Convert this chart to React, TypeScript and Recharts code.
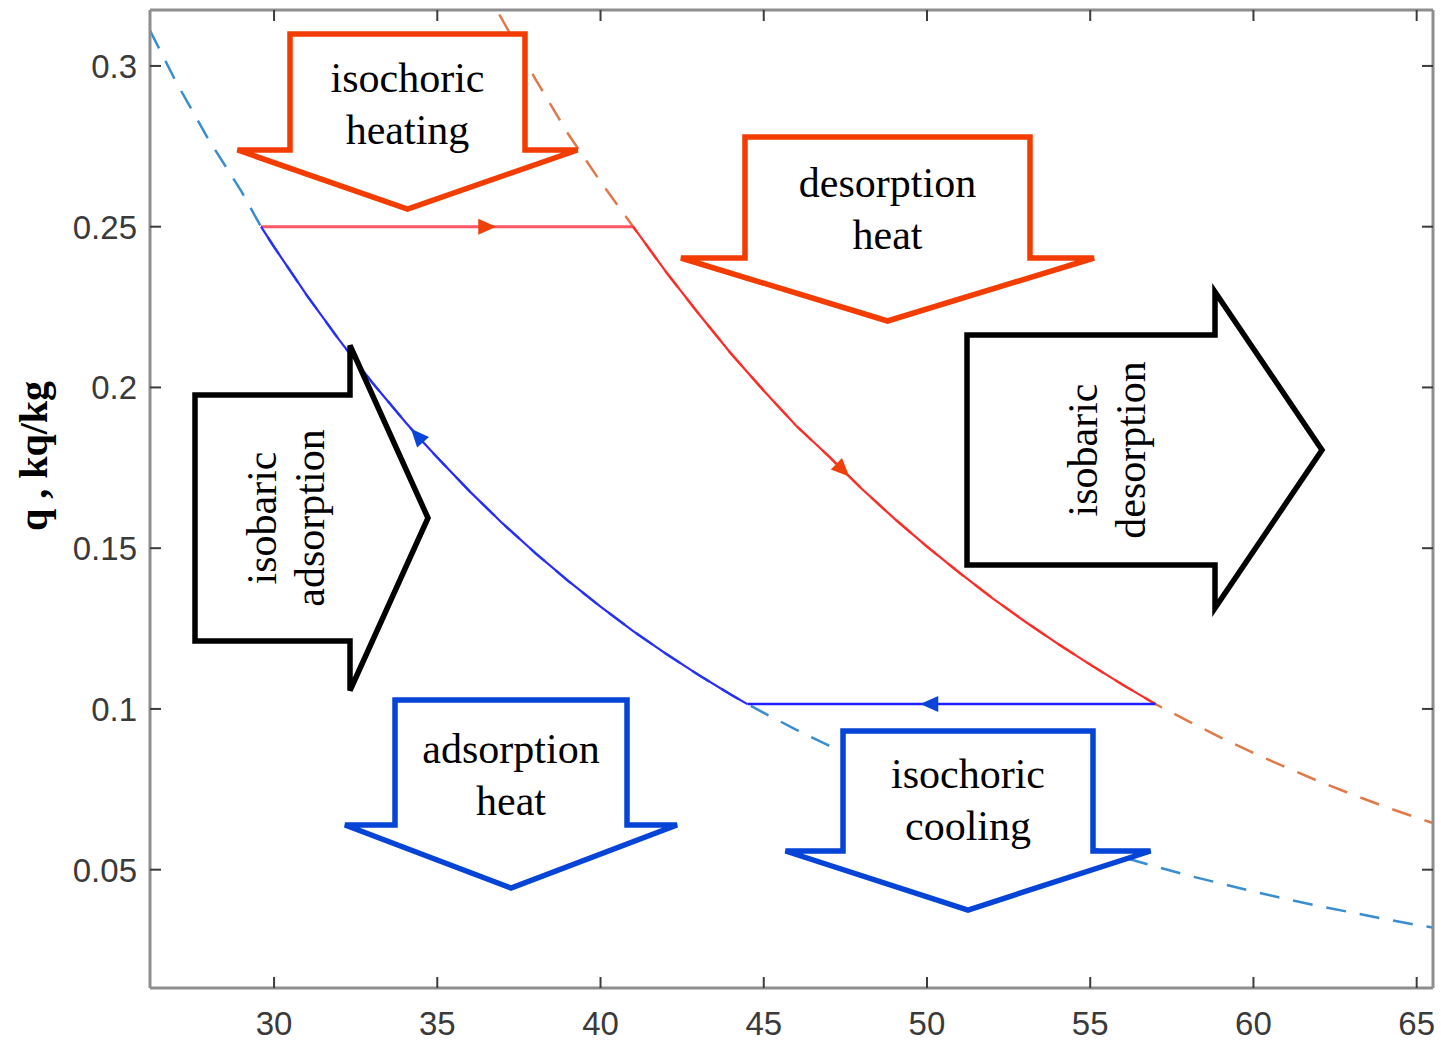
import { Line, LineChart, XAxis, YAxis } from "recharts";

// low-pressure isostere (adsorber side), T in °C, q in kg/kg
const lowT = [
  26.2, 27, 28, 29, 29.6, 30, 31, 32, 33, 34, 34.4, 35, 36, 37, 38, 39, 40, 41, 42,
  43, 44, 44.5, 45, 46, 47, 48, 49, 50, 51, 52, 53, 54, 55, 56, 57, 58, 59, 60, 61,
  62, 63, 64, 65, 65.5,
];
const lowQ = [
  0.311, 0.295, 0.277, 0.261, 0.25, 0.2437, 0.2287, 0.2147, 0.2016, 0.1895, 0.1848,
  0.1782, 0.1676, 0.1577, 0.1485, 0.1399, 0.1318, 0.1242, 0.1172, 0.1106, 0.1044,
  0.1015, 0.0988, 0.0935, 0.0886, 0.0838, 0.0793, 0.075, 0.071, 0.0672, 0.0636,
  0.0602, 0.057, 0.0539, 0.051, 0.0482, 0.0457, 0.0432, 0.0409, 0.0387, 0.0367,
  0.0347, 0.0328, 0.032,
];

// high-pressure isostere (desorber side)
const highT = [
  36.9, 38, 39, 40, 41, 42, 43, 44, 45, 46, 47, 47.4, 48, 49, 50, 51, 52, 53, 54, 55,
  56, 57, 58, 59, 60, 61, 62, 63, 64, 65, 65.5,
];
const highQ = [
  0.316, 0.296, 0.279, 0.264, 0.25, 0.236, 0.223, 0.2105, 0.199, 0.188, 0.1785, 0.1745,
  0.1685, 0.1592, 0.1505, 0.1423, 0.1345, 0.1272, 0.1203, 0.1138, 0.1075, 0.1015,
  0.0962, 0.0911, 0.0863, 0.0818, 0.0775, 0.0735, 0.0697, 0.0662, 0.0645,
];

// cycle corners: start of heating, start of desorption, start of cooling, start of adsorption
const cycleT = [29.6, 41, 57, 44.5];
const cycleQ = [0.25, 0.25, 0.1015, 0.1015];
// where the direction arrows sit on each leg (heating, desorption, cooling, adsorption)
const arrowT = [36.5, 47.4, 50.1, 34.4];

const xTicks = [30, 35, 40, 45, 50, 55, 60, 65];
const yTicks = [0.05, 0.1, 0.15, 0.2, 0.25, 0.3];

type Pt = { T: number; q: number };
const zip = (ts: number[], qs: number[]): Pt[] => ts.map((T, i) => ({ T, q: qs[i] }));

const lowCurve = zip(lowT, lowQ);
const highCurve = zip(highT, highQ);
const heatingLeg = zip([cycleT[0], arrowT[0], cycleT[1]], [cycleQ[0], cycleQ[0], cycleQ[1]]);
const desorptionLeg = highCurve.filter((p) => p.T >= cycleT[1] && p.T <= cycleT[2]);
const coolingLeg = zip([cycleT[2], arrowT[2], cycleT[3]], [cycleQ[2], cycleQ[2], cycleQ[3]]);
const adsorptionLeg = lowCurve.filter((p) => p.T >= cycleT[0] && p.T <= cycleT[3]).reverse();

const W = 1441;
const H = 1042;
const FRAME = "#8e8e8e";
const TICK = "#3c3c3c";
const LABEL = "#3a3a3a";
const SANS = "'Liberation Sans', Arial, Helvetica, sans-serif";
const SERIF = "'Liberation Serif', 'Times New Roman', serif";
const ORANGE = "#f23c00";
const BLUE = "#0544d6";

// direction marker drawn on the point whose T matches `at`
const arrowDot = (at: number, color: string) => (props: any) => {
  const { cx, cy, index, points, payload } = props;
  if (!payload || payload.T !== at || !points) return <g />;
  const a = points[Math.max(index - 1, 0)];
  const b = points[Math.min(index + 1, points.length - 1)];
  const dx = b.x - a.x;
  const dy = b.y - a.y;
  const len = Math.hypot(dx, dy) || 1;
  const ux = dx / len;
  const uy = dy / len;
  const tip = [cx + ux * 10, cy + uy * 10];
  const b1 = [cx - ux * 8 - uy * 8, cy - uy * 8 + ux * 8];
  const b2 = [cx - ux * 8 + uy * 8, cy - uy * 8 - ux * 8];
  return <polygon points={`${tip} ${b1} ${b2}`} fill={color} stroke="none" />;
};

const BottomTick = (props: any) => {
  const { x, y, payload } = props;
  return (
    <g>
      <line x1={x} y1={y} x2={x} y2={y - 11} stroke={TICK} strokeWidth={2} />
      <text x={x} y={y + 47} textAnchor="middle" fontSize={33} fill={LABEL} fontFamily={SANS}>
        {payload.value}
      </text>
    </g>
  );
};

const TopTick = (props: any) => {
  const { x, y } = props;
  return <line x1={x} y1={y} x2={x} y2={y + 11} stroke={TICK} strokeWidth={2} />;
};

const LeftTick = (props: any) => {
  const { x, y, payload } = props;
  return (
    <g>
      <line x1={x} y1={y} x2={x + 11} y2={y} stroke={TICK} strokeWidth={2} />
      <text x={x - 13} y={y} dy="0.36em" textAnchor="end" fontSize={33} fill={LABEL} fontFamily={SANS}>
        {String(payload.value)}
      </text>
    </g>
  );
};

const RightTick = (props: any) => {
  const { x, y } = props;
  return <line x1={x} y1={y} x2={x - 11} y2={y} stroke={TICK} strokeWidth={2} />;
};

// block arrow pointing down: body from top to shoulder, wings out to wingHalf, tip below
function downArrow(cx: number, top: number, half: number, shoulder: number, wingHalf: number, tip: number) {
  return [
    [cx - half, top],
    [cx + half, top],
    [cx + half, shoulder],
    [cx + wingHalf, shoulder],
    [cx, tip],
    [cx - wingHalf, shoulder],
    [cx - half, shoulder],
  ]
    .map((p) => p.join(","))
    .join(" ");
}

// block arrow pointing right
function rightArrow(cy: number, left: number, half: number, neck: number, headHalf: number, tip: number) {
  return [
    [left, cy - half],
    [neck, cy - half],
    [neck, cy - headHalf],
    [tip, cy],
    [neck, cy + headHalf],
    [neck, cy + half],
    [left, cy + half],
  ]
    .map((p) => p.join(","))
    .join(" ");
}

function Label({ x, y, lines, rotate }: { x: number; y: number; lines: string[]; rotate?: boolean }) {
  return (
    <>
      {lines.map((s, i) =>
        rotate ? (
          <text
            key={s}
            x={x + i * 48}
            y={y}
            transform={`rotate(-90 ${x + i * 48} ${y})`}
            textAnchor="middle"
            fontSize={42}
            fontFamily={SERIF}
            fill="#000"
          >
            {s}
          </text>
        ) : (
          <text key={s} x={x} y={y + i * 52} textAnchor="middle" fontSize={42} fontFamily={SERIF} fill="#000">
            {s}
          </text>
        ),
      )}
    </>
  );
}

function Annotations() {
  const sw = 5.5;
  return (
    <svg width={W} height={H} style={{ position: "absolute", left: 0, top: 0, pointerEvents: "none" }}>
      <text
        x={47}
        y={456}
        transform="rotate(-90 47 456)"
        textAnchor="middle"
        fontSize={40}
        fontWeight="bold"
        fontFamily={SERIF}
        fill="#000"
      >
        q , kq/kg
      </text>

      <polygon points={downArrow(407.5, 34, 117.5, 150, 170, 209)} fill="#fff" stroke={ORANGE} strokeWidth={sw} />
      <Label x={407.5} y={92} lines={["isochoric", "heating"]} />

      <polygon points={downArrow(887.5, 137, 142.5, 258, 206.5, 321)} fill="#fff" stroke={ORANGE} strokeWidth={sw} />
      <Label x={887.5} y={197} lines={["desorption", "heat"]} />

      <polygon points={downArrow(511, 700, 116, 825, 166, 888)} fill="#fff" stroke={BLUE} strokeWidth={sw} />
      <Label x={511} y={763} lines={["adsorption", "heat"]} />

      <polygon points={downArrow(968, 731, 125, 851, 182.5, 910)} fill="#fff" stroke={BLUE} strokeWidth={sw} />
      <Label x={968} y={788} lines={["isochoric", "cooling"]} />

      <polygon points={rightArrow(518, 195, 123, 350, 172.5, 428)} fill="#fff" stroke="#000" strokeWidth={sw} />
      <Label x={276} y={518} rotate lines={["isobaric", "adsorption"]} />

      <polygon points={rightArrow(450, 967, 115, 1215, 158, 1322)} fill="#fff" stroke="#000" strokeWidth={sw} />
      <Label x={1097} y={450} rotate lines={["isobaric", "desorption"]} />
    </svg>
  );
}

export default function App() {
  const xDomain: [number, number] = [26.2, 65.5];
  const yDomain: [number, number] = [0.0132, 0.3174];
  return (
    <div style={{ position: "absolute", left: 0, top: 0, width: W, height: H, background: "#fff" }}>
      <LineChart width={W} height={H} margin={{ top: 9, right: 7, bottom: 0, left: 0 }}>
        <XAxis
          dataKey="T"
          type="number"
          domain={xDomain}
          ticks={xTicks}
          interval={0}
          allowDataOverflow
          height={54}
          axisLine={{ stroke: FRAME, strokeWidth: 3 }}
          tickLine={false}
          tickSize={0}
          tickMargin={0}
          tick={<BottomTick />}
        />
        <XAxis
          xAxisId="top"
          orientation="top"
          dataKey="T"
          type="number"
          domain={xDomain}
          ticks={xTicks}
          interval={0}
          allowDataOverflow
          height={1}
          axisLine={{ stroke: FRAME, strokeWidth: 3 }}
          tickLine={false}
          tickSize={0}
          tickMargin={0}
          tick={<TopTick />}
        />
        <YAxis
          type="number"
          domain={yDomain}
          ticks={yTicks}
          interval={0}
          allowDataOverflow
          width={150}
          axisLine={{ stroke: FRAME, strokeWidth: 3 }}
          tickLine={false}
          tickSize={0}
          tickMargin={0}
          tick={<LeftTick />}
        />
        <YAxis
          yAxisId="right"
          orientation="right"
          type="number"
          domain={yDomain}
          ticks={yTicks}
          interval={0}
          allowDataOverflow
          width={1}
          axisLine={{ stroke: FRAME, strokeWidth: 3 }}
          tickLine={false}
          tickSize={0}
          tickMargin={0}
          tick={<RightTick />}
        />

        <Line
          data={lowCurve}
          dataKey="q"
          xAxisId="top"
          yAxisId="right"
          type="linear"
          stroke="#3a8dd0"
          strokeWidth={2.5}
          strokeDasharray="20 14"
          dot={false}
          activeDot={false}
          isAnimationActive={false}
        />
        <Line
          data={highCurve}
          dataKey="q"
          xAxisId="top"
          yAxisId="right"
          type="linear"
          stroke="#e2794a"
          strokeWidth={2.5}
          strokeDasharray="20 14"
          dot={false}
          activeDot={false}
          isAnimationActive={false}
        />

        <Line
          data={heatingLeg}
          dataKey="q"
          type="linear"
          stroke="#ff3a4c"
          strokeOpacity={0.85}
          strokeWidth={3}
          dot={arrowDot(arrowT[0], "#f0400a")}
          activeDot={false}
          isAnimationActive={false}
        />
        <Line
          data={desorptionLeg}
          dataKey="q"
          type="linear"
          stroke="#ff2a2a"
          strokeWidth={2.2}
          dot={arrowDot(arrowT[1], "#f0400a")}
          activeDot={false}
          isAnimationActive={false}
        />
        <Line
          data={coolingLeg}
          dataKey="q"
          type="linear"
          stroke="#2020ff"
          strokeWidth={2.5}
          dot={arrowDot(arrowT[2], "#0845d8")}
          activeDot={false}
          isAnimationActive={false}
        />
        <Line
          data={adsorptionLeg}
          dataKey="q"
          type="linear"
          stroke="#2a2aff"
          strokeWidth={2.2}
          dot={arrowDot(arrowT[3], "#0845d8")}
          activeDot={false}
          isAnimationActive={false}
        />
      </LineChart>
      <Annotations />
    </div>
  );
}
